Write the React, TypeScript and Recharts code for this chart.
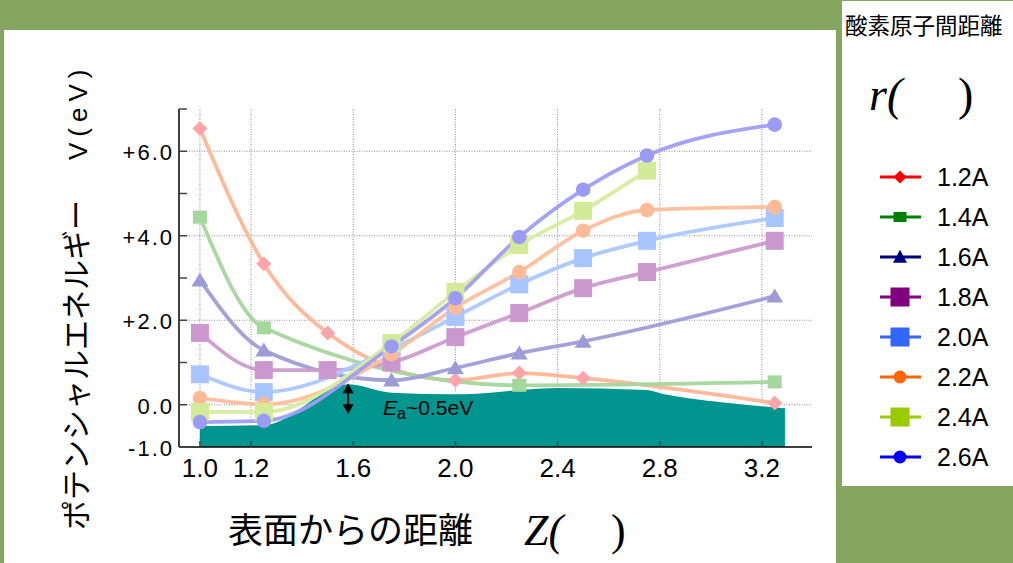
import React from 'react';
import { ComposedChart, Line, Area, XAxis, YAxis, CartesianGrid, ReferenceDot } from 'recharts';

// ---- data ----
const seriesNames = ['1.2A', '1.4A', '1.6A', '1.8A', '2.0A', '2.2A', '2.4A', '2.6A'];

const z12 = [1.0, 1.25, 1.5, 2.0, 2.25, 2.5, 3.25];
const v12 = [6.54, 3.34, 1.7, 0.58, 0.75, 0.63, 0.04];
const z14 = [1.0, 1.25, 2.25, 3.25];
const v14 = [4.44, 1.82, 0.46, 0.54];
const z16 = [1.0, 1.25, 1.75, 2.0, 2.25, 2.5, 3.25];
const v16 = [2.95, 1.29, 0.58, 0.87, 1.22, 1.5, 2.57];
const z18 = [1.0, 1.25, 1.5, 1.75, 2.0, 2.25, 2.5, 2.75, 3.25];
const v18 = [1.7, 0.82, 0.82, 1.0, 1.6, 2.17, 2.76, 3.14, 3.88];
const z20 = [1.0, 1.25, 1.75, 2.0, 2.25, 2.5, 2.75, 3.25];
const v20 = [0.72, 0.3, 1.32, 2.08, 2.85, 3.47, 3.88, 4.42];
const z22 = [1.0, 1.25, 1.75, 2.0, 2.25, 2.5, 2.75, 3.25];
const v22 = [0.16, 0.01, 1.2, 2.3, 3.14, 4.12, 4.61, 4.68];
const z24 = [1.0, 1.25, 1.75, 2.0, 2.25, 2.5, 2.75];
const v24 = [-0.17, -0.17, 1.46, 2.67, 3.78, 4.59, 5.54];
const z26 = [1.0, 1.25, 1.75, 2.0, 2.25, 2.5, 2.75, 3.25];
const v26 = [-0.41, -0.38, 1.38, 2.52, 3.97, 5.09, 5.9, 6.63];

const barrierZ = [1.0, 1.25, 1.58, 1.75, 2.0, 2.4, 2.75, 2.82, 3.0, 3.29];
const barrierV = [-0.48, -0.46, 0.51, 0.31, 0.27, 0.42, 0.37, 0.27, 0.11, -0.06];

const xTicks = [1.0, 1.2, 1.6, 2.0, 2.4, 2.8, 3.2];
const yTicks = [-1, 0, 1, 2, 3, 4, 5, 6, 7];
const yLabelled = [-1, 0, 2, 4, 6];
const gridY = [0, 2, 4, 6];

const eaZ = 1.58;
const eaTop = 0.51;

const seriesZ = [z12, z14, z16, z18, z20, z22, z24, z26];
const seriesV = [v12, v14, v16, v18, v20, v22, v24, v26];

// ---- styles ----
type Shape = 'diamond' | 'smallSquare' | 'triangle' | 'square' | 'circle';
const shapes: Shape[] = ['diamond', 'smallSquare', 'triangle', 'square', 'square', 'circle', 'square', 'circle'];
const plotLineColors = ['#FFB596', '#A5D69E', '#9E9ED8', '#CD9BCF', '#ABC7FF', '#FFBF9B', '#D7EC9E', '#9F9EF4'];
const plotMarkerColors = ['#FFA4A8', '#A3D79C', '#9C9CD6', '#CC97CE', '#A9C5FF', '#FFBB96', '#D3EB98', '#9C9BF3'];
const legendColors = ['#FF0000', '#008000', '#000080', '#800080', '#3366FF', '#FF6600', '#99CC00', '#0000FF'];

const GREEN = '#86A55E';
const TEAL = '#00968F';
const sans = '"Liberation Sans", Arial, sans-serif';
const cjk = '"Noto Sans CJK JP", "Noto Sans CJK SC", sans-serif';
const serif = '"Liberation Serif", "Times New Roman", serif';

function drawMarker(shape: Shape, cx: number, cy: number, fill: string, legend: boolean, key?: string) {
  switch (shape) {
    case 'diamond': {
      const r = legend ? 6.5 : 7.5;
      return <polygon key={key} points={`${cx},${cy - r} ${cx + r},${cy} ${cx},${cy + r} ${cx - r},${cy}`} fill={fill} />;
    }
    case 'smallSquare': {
      const w = legend ? 13 : 14;
      const h = legend ? 10 : 13;
      return <rect key={key} x={cx - w / 2} y={cy - h / 2} width={w} height={h} fill={fill} />;
    }
    case 'triangle': {
      const w = legend ? 7 : 8.5;
      const h = legend ? 13 : 14;
      return <polygon key={key} points={`${cx},${cy - h * 0.55} ${cx + w},${cy + h * 0.45} ${cx - w},${cy + h * 0.45}`} fill={fill} />;
    }
    case 'square': {
      const s = legend ? 19 : 18;
      return <rect key={key} x={cx - s / 2} y={cy - s / 2} width={s} height={s} fill={fill} />;
    }
    case 'circle':
    default: {
      const r = legend ? 6.5 : 7.3;
      return <circle key={key} cx={cx} cy={cy} r={r} fill={fill} />;
    }
  }
}

const YTick = (props: any) => {
  const { x, y, payload } = props;
  const v = payload.value;
  if (!yLabelled.includes(v)) return null;
  const txt = v > 0 ? `+${v.toFixed(1)}` : v.toFixed(1);
  return (
    <text x={x + 2} y={y} dy={9} textAnchor="end" fontSize={22} fontFamily={sans} fill="#000" letterSpacing={2}>
      {txt}
    </text>
  );
};

const EaMark = (props: any) => {
  const { cx, cy } = props;
  if (cx == null || cy == null) return null;
  const len = 31;
  return (
    <g>
      <line x1={cx} y1={cy + 6} x2={cx} y2={cy + len - 6} stroke="#000" strokeWidth={2} />
      <polygon points={`${cx},${cy} ${cx + 5.5},${cy + 10} ${cx - 5.5},${cy + 10}`} fill="#000" />
      <polygon points={`${cx},${cy + len} ${cx + 5.5},${cy + len - 10} ${cx - 5.5},${cy + len - 10}`} fill="#000" />
      <text x={cx + 35} y={cy + 32} fontFamily={sans} fontSize={21} fill="#000">
        <tspan fontStyle="italic">E</tspan>
        <tspan fontSize={16} dy={4}>a</tspan>
        <tspan dy={-4}>~0.5eV</tspan>
      </text>
    </g>
  );
};

export default function App() {
  const barrierData = barrierZ.map((z, i) => ({ z, v: barrierV[i] }));
  const seriesData = seriesZ.map((zs, s) => zs.map((z, i) => ({ z, v: seriesV[s][i] })));

  return (
    <div style={{ position: 'absolute', left: 0, top: 0, width: 1013, height: 563, background: GREEN, overflow: 'hidden' }}>
      <div style={{ position: 'absolute', left: 4, top: 30, width: 832, height: 533, background: '#fff' }} />
      <div style={{ position: 'absolute', left: 842, top: 1, width: 171, height: 485, background: '#fff' }} />
      <div style={{ position: 'absolute', left: 0, top: 0 }}>
        <ComposedChart width={836} height={563} margin={{ top: 109, right: 24, bottom: 86, left: 0 }}>
          <CartesianGrid stroke="#8c8c8c" strokeWidth={1} strokeDasharray="1 1.5" horizontalValues={gridY} verticalValues={xTicks} />
          <XAxis
            type="number"
            dataKey="z"
            domain={[0.918, 3.396]}
            ticks={xTicks}
            interval={0}
            allowDataOverflow
            height={30}
            tickSize={-6}
            tickMargin={18}
            tickFormatter={(v: number) => v.toFixed(1)}
            axisLine={{ stroke: '#000', strokeWidth: 1.5 }}
            tickLine={{ stroke: '#444', strokeWidth: 1.5 }}
            tick={{ fontSize: 26, fill: '#000', fontFamily: sans }}
          />
          <XAxis
            xAxisId="top"
            orientation="top"
            type="number"
            domain={[0.918, 3.396]}
            ticks={xTicks}
            interval={0}
            allowDataOverflow
            height={0}
            tickSize={-6}
            tick={false}
            axisLine={{ stroke: '#222', strokeWidth: 2 }}
            tickLine={{ stroke: '#222', strokeWidth: 1.5 }}
          />
          <YAxis
            type="number"
            domain={[-1, 7]}
            ticks={yTicks}
            interval={0}
            allowDataOverflow
            width={179}
            tickSize={-8}
            tickMargin={15}
            axisLine={{ stroke: '#000', strokeWidth: 1.5 }}
            tickLine={{ stroke: '#444', strokeWidth: 1.5 }}
            tick={<YTick />}
          />
          <YAxis
            yAxisId="right"
            orientation="right"
            type="number"
            domain={[-1, 7]}
            ticks={yTicks}
            interval={0}
            allowDataOverflow
            width={0}
            tickSize={-6}
            tick={false}
            axisLine={{ stroke: '#666', strokeWidth: 2.5 }}
            tickLine={{ stroke: '#444', strokeWidth: 1.5 }}
          />
          <Area
            data={barrierData}
            dataKey="v"
            type="monotone"
            baseValue="dataMin"
            fill={TEAL}
            fillOpacity={1}
            stroke="#ffffff"
            strokeWidth={2}
            dot={false}
            activeDot={false}
            isAnimationActive={false}
          />
          {seriesNames.map((name, s) => (
            <Line
              key={name}
              name={name}
              data={seriesData[s]}
              dataKey="v"
              type="monotone"
              stroke={plotLineColors[s]}
              strokeWidth={3.8}
              strokeOpacity={0.95}
              connectNulls
              activeDot={false}
              isAnimationActive={false}
              dot={(p: any) => {
                if (p.cx == null || p.cy == null) return <g key={`d-${s}-${p.index}`} />;
                return drawMarker(shapes[s], p.cx, p.cy, plotMarkerColors[s], false, `d-${s}-${p.index}`);
              }}
            />
          ))}
          <ReferenceDot x={eaZ} y={eaTop} r={0} shape={<EaMark />} ifOverflow="visible" />
        </ComposedChart>
      </div>
      <svg width={1013} height={563} style={{ position: 'absolute', left: 0, top: 0, pointerEvents: 'none' }}>
        {/* y-axis title */}
        <text transform="translate(87,530) rotate(-90)" fontFamily={cjk} fontSize={30} fill="#000">
          <tspan>ポテンシャルエネルギー</tspan>
          <tspan dx={40} fontFamily={sans} fontSize={26} letterSpacing={6}>V(eV)</tspan>
        </text>
        {/* x-axis title */}
        <text x={228} y={543} fontFamily={cjk} fontSize={35} fill="#000">表面からの距離</text>
        <text x={524} y={545} fontFamily={serif} fontSize={44} fontStyle="italic" fill="#000">Z(</text>
        <text x={611} y={545} fontFamily={serif} fontSize={44} fill="#000">)</text>
        {/* legend */}
        <text x={845} y={34} fontFamily={cjk} fontSize={22.5} fill="#000">酸素原子間距離</text>
        <text x={869} y={110} fontFamily={serif} fontSize={46} fontStyle="italic" fill="#000">r(</text>
        <text x={958} y={110} fontFamily={serif} fontSize={46} fill="#000">)</text>
        {seriesNames.map((name, s) => {
          const cy = 177 + s * 40;
          return (
            <g key={name}>
              <line x1={880} x2={921} y1={cy} y2={cy} stroke={legendColors[s]} strokeWidth={3} />
              {drawMarker(shapes[s], 900, cy, legendColors[s], true)}
              <text x={937} y={cy + 9} fontFamily={sans} fontSize={25} fill="#000">{name}</text>
            </g>
          );
        })}
      </svg>
    </div>
  );
}
